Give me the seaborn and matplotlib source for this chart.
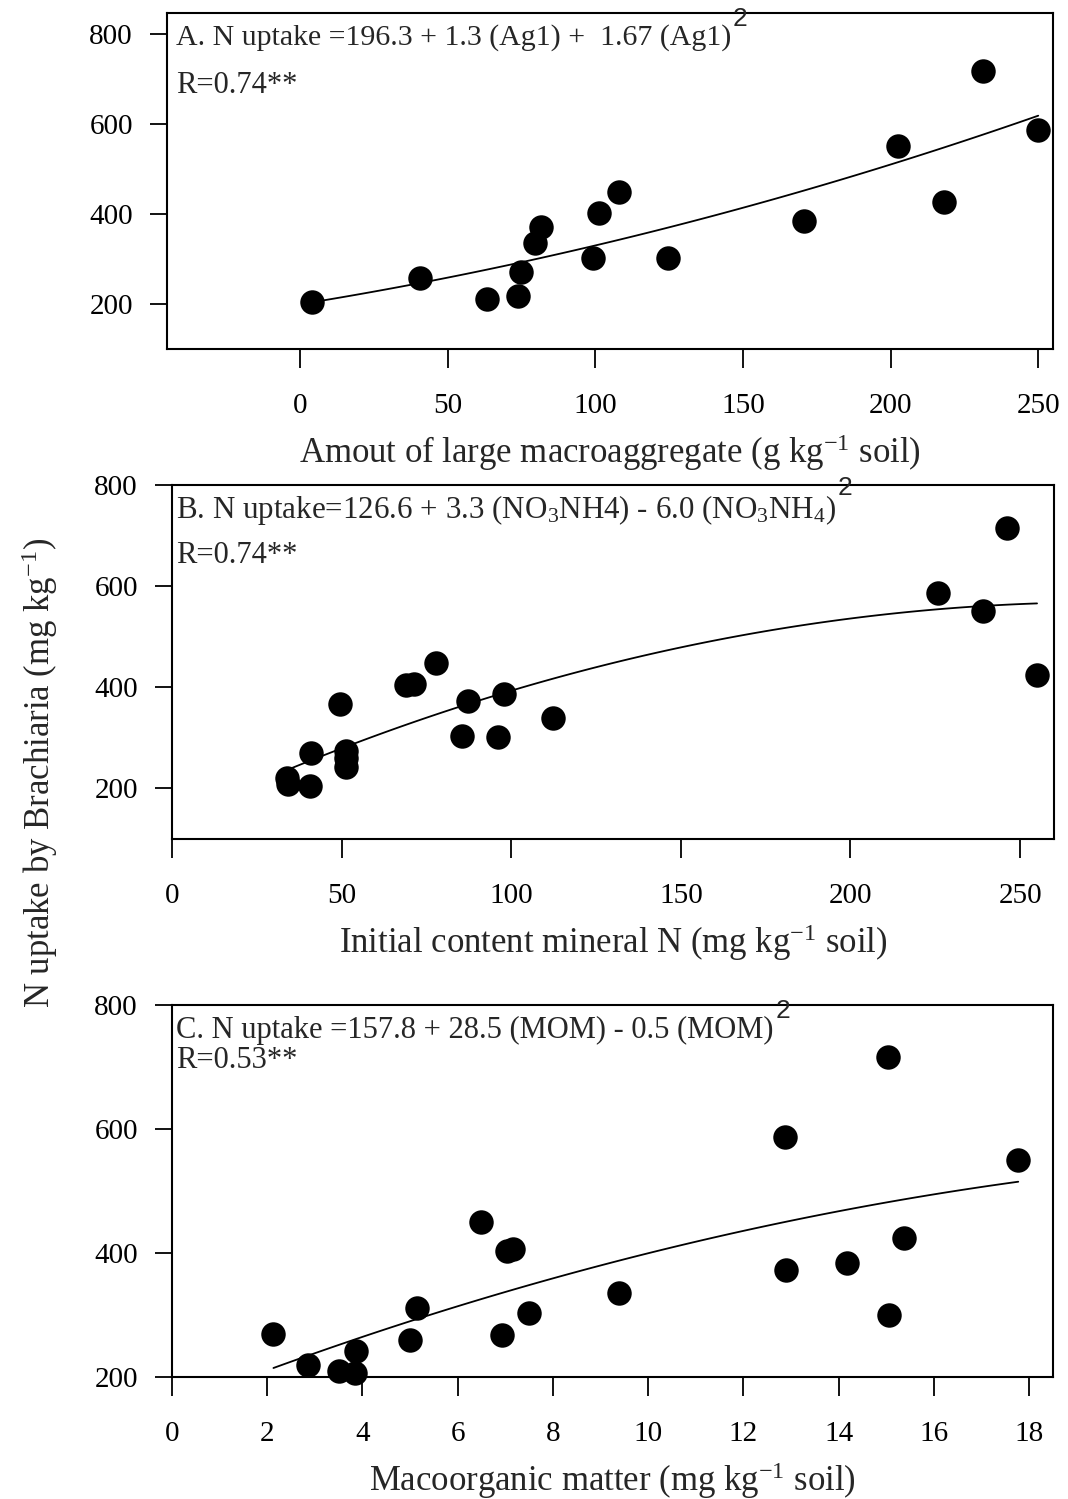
import numpy as np
import pandas as pd
import matplotlib
matplotlib.use("Agg")
import matplotlib.pyplot as plt
import seaborn as sns

# ---- data ----
agg_x = [4.1, 40.6, 63.3, 74.8, 73.7, 79.5, 81.5, 99.1, 101.2, 107.9, 124.5, 170.8, 202.6, 218.2, 231.4, 250.0]
agg_y = [204, 258, 211, 271, 218, 336, 371, 302, 402, 449, 302, 384, 551, 427, 718, 587]

minN_x = [33.9, 34.2, 41.0, 40.7, 49.6, 51.4, 51.4, 51.4, 69.0, 71.4, 77.9, 87.4, 85.6, 96.2, 98.0, 112.2, 225.8, 239.1, 246.2, 255.0]
minN_y = [220, 208, 271, 204, 366, 275, 243, 260, 404, 406, 449, 372, 303, 301, 386, 339, 586, 550, 714, 424]

mom_x = [2.13, 2.86, 3.51, 3.84, 3.86, 5.15, 4.99, 6.92, 7.50, 9.38, 15.06, 6.48, 7.03, 7.17, 12.90, 12.87, 14.18, 15.04, 15.38, 17.77]
mom_y = [270, 219, 210, 206, 242, 311, 260, 268, 304, 335, 300, 450, 403, 406, 373, 587, 384, 716, 424, 550]

xticks_A = [0, 50, 100, 150, 200, 250]
xticks_B = [0, 50, 100, 150, 200, 250]
xticks_C = [0, 2, 4, 6, 8, 10, 12, 14, 16, 18]
yticks = [200, 400, 600, 800]

xlabels = ["Amout of large macroaggregate (g kg$^{-1}$ soil)",
           "Initial content mineral N (mg kg$^{-1}$ soil)",
           "Macoorganic matter (mg kg$^{-1}$ soil)"]
ylabel = "N uptake by Brachiaria (mg kg$^{-1}$)"
eq_texts = ["A. N uptake =196.3 + 1.3 (Ag1) +  1.67 (Ag1)",
            "B. N uptake=126.6 + 3.3 (NO$_{3}$NH4) - 6.0 (NO$_{3}$NH$_{4}$)",
            "C. N uptake =157.8 + 28.5 (MOM) - 0.5 (MOM)"]
r_texts = ["R=0.74**", "R=0.74**", "R=0.53**"]

# ---- style ----
sns.set_style("white")
plt.rcParams['font.family'] = ['Liberation Serif', 'DejaVu Serif']
plt.rcParams['mathtext.fontset'] = 'custom'
plt.rcParams['mathtext.rm'] = 'Liberation Serif'
plt.rcParams['mathtext.it'] = 'Liberation Serif:italic'
plt.rcParams['mathtext.bf'] = 'Liberation Serif:bold'

fig = plt.figure(figsize=(10.68, 14.99), dpi=100)

W, H = 1068, 1499
def box(l, t, r, b):
    return [l / W, 1 - b / H, (r - l) / W, (b - t) / H]

axA = fig.add_axes(box(167, 13, 1053, 349))
axB = fig.add_axes(box(172, 485, 1054, 839))
axC = fig.add_axes(box(172, 1005, 1053, 1377))

panels = [
    (axA, agg_x, agg_y, (-45, 255), (100, 846), xticks_A, (0.905, 0.762), 0.010, 21.5),
    (axB, minN_x, minN_y, (0, 260), (100, 800), xticks_B, (0.907, 0.780), 0.005, 22.3),
    (axC, mom_x, mom_y, (0, 18.5), (200, 800), xticks_C, (0.911, 0.831), 0.005, 22),
]

for i, (ax, xs, ys, xl, yl, xt, ty, tx, fs) in enumerate(panels):
    df = pd.DataFrame({"x": xs, "y": ys})
    sns.regplot(data=df, x="x", y="y", order=2, ci=None, scatter=False,
                truncate=True, ax=ax, line_kws=dict(color="black", lw=1.3))
    sns.scatterplot(data=df, x="x", y="y", ax=ax, s=310, color="black",
                    edgecolor="black", linewidth=0, clip_on=False, zorder=3)
    ax.set_xlim(*xl)
    ax.set_ylim(*yl)
    ax.set_xticks(xt)
    ax.set_yticks(yticks)
    ax.tick_params(axis='x', direction='out', length=13.5, width=1.3,
                   pad=18, labelsize=21, colors='black', bottom=True)
    ax.tick_params(axis='y', direction='out', length=12.5, width=1.3,
                   pad=12, labelsize=21, colors='black', left=True)
    for sp in ax.spines.values():
        sp.set_linewidth(1.5)
        sp.set_color('black')
        sp.set_visible(True)
    ax.set_xlabel(xlabels[i], fontsize=25, labelpad=10)
    ax.set_ylabel("")
    t = ax.text(tx, ty[0], eq_texts[i], transform=ax.transAxes, fontsize=fs,
                ha='left', va='baseline')
    ax.annotate("2", xy=(1, 1), xycoords=t, xytext=(1, -5),
                textcoords='offset points', ha='left', va='bottom',
                fontsize=19, family='Liberation Sans')
    ax.text(tx, ty[1], r_texts[i], transform=ax.transAxes, fontsize=22,
            ha='left', va='baseline')

fig.text(40 / W, 1 - 773 / H, ylabel, rotation=90, fontsize=25,
         ha='center', va='center')

fig.savefig("out.png", dpi=100, facecolor="white")
